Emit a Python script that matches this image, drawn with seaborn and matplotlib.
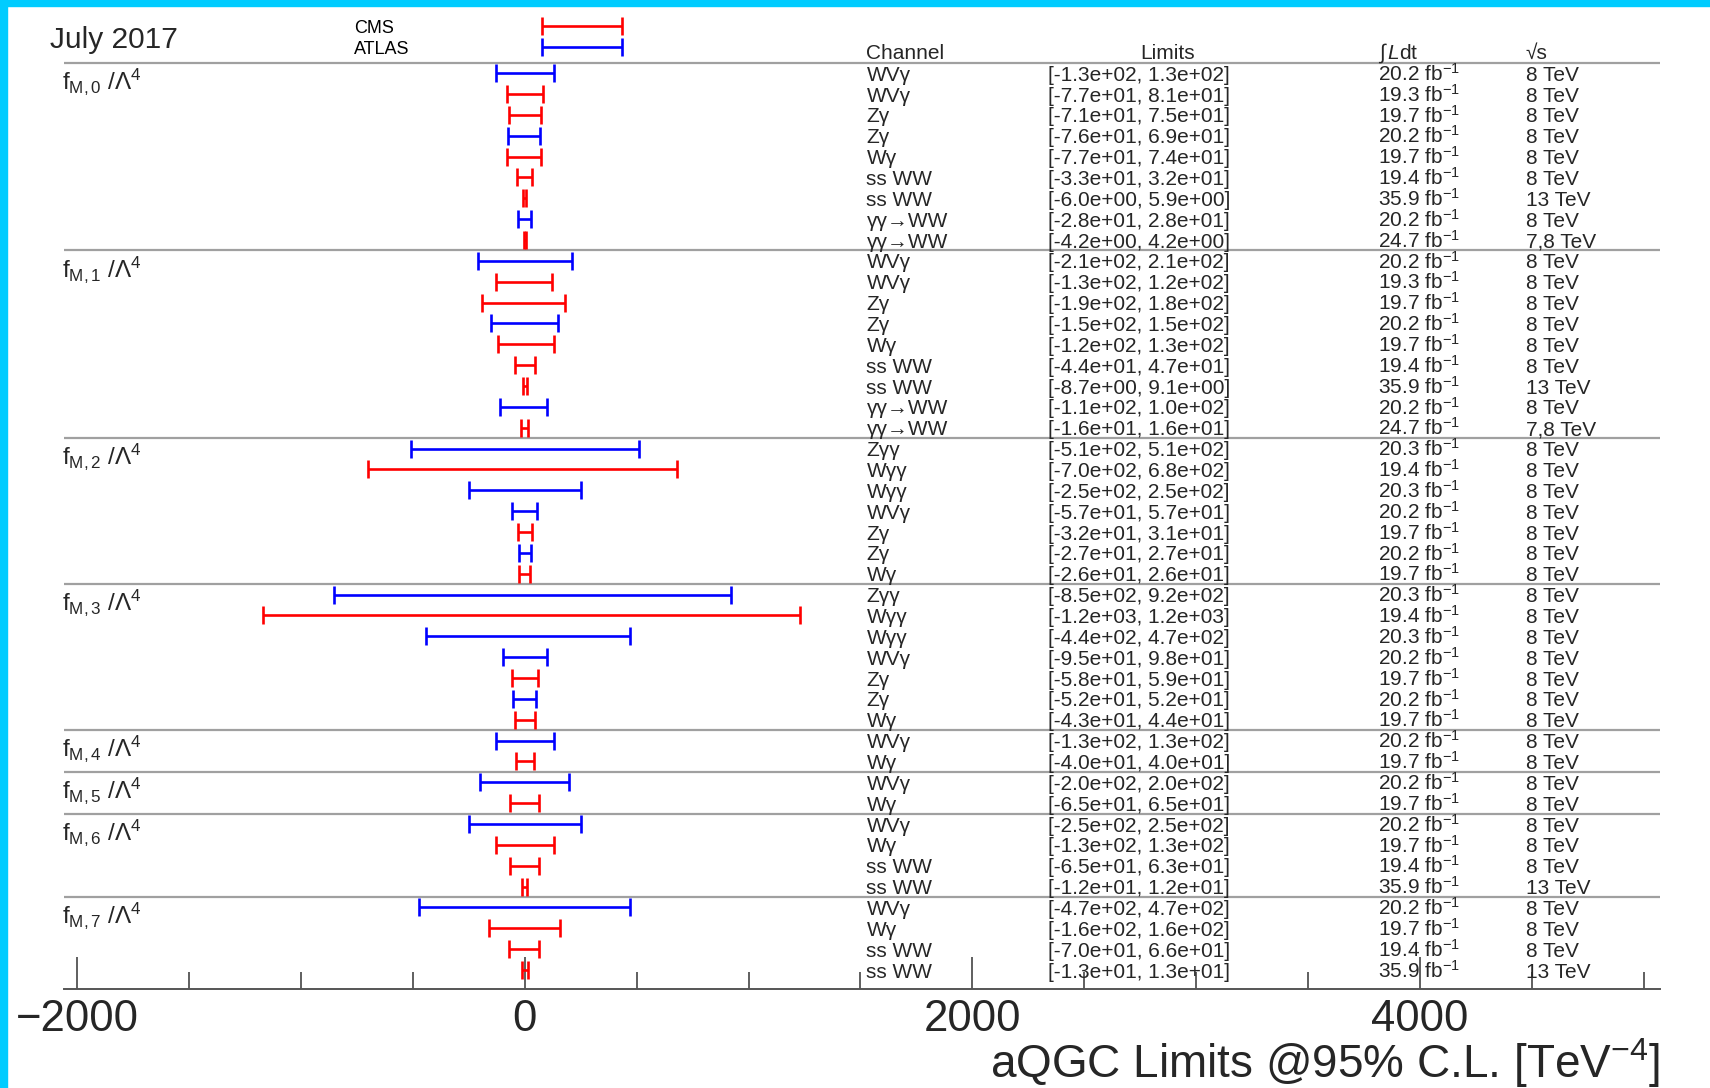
import numpy as np
import pandas as pd
import matplotlib
matplotlib.use("Agg")
import matplotlib.pyplot as plt
import seaborn as sns
from matplotlib.patches import Rectangle
from matplotlib.ticker import MultipleLocator, FixedLocator

# ---------------- data ----------------
operators = ["M,0", "M,1", "M,2", "M,3", "M,4", "M,5", "M,6", "M,7"]
n_per_op = [9, 9, 7, 7, 2, 2, 4, 4]

channels = [
    "WVγ", "WVγ", "Zγ", "Zγ", "Wγ", "ss WW", "ss WW", "γγ→WW", "γγ→WW",
    "WVγ", "WVγ", "Zγ", "Zγ", "Wγ", "ss WW", "ss WW", "γγ→WW", "γγ→WW",
    "Zγγ", "Wγγ", "Wγγ", "WVγ", "Zγ", "Zγ", "Wγ",
    "Zγγ", "Wγγ", "Wγγ", "WVγ", "Zγ", "Zγ", "Wγ",
    "WVγ", "Wγ",
    "WVγ", "Wγ",
    "WVγ", "Wγ", "ss WW", "ss WW",
    "WVγ", "Wγ", "ss WW", "ss WW",
]
lower = [
    -1.3e2, -7.7e1, -7.1e1, -7.6e1, -7.7e1, -3.3e1, -6.0e0, -2.8e1, -4.2e0,
    -2.1e2, -1.3e2, -1.9e2, -1.5e2, -1.2e2, -4.4e1, -8.7e0, -1.1e2, -1.6e1,
    -5.1e2, -7.0e2, -2.5e2, -5.7e1, -3.2e1, -2.7e1, -2.6e1,
    -8.5e2, -1.17e3, -4.4e2, -9.5e1, -5.8e1, -5.2e1, -4.3e1,
    -1.3e2, -4.0e1,
    -2.0e2, -6.5e1,
    -2.5e2, -1.3e2, -6.5e1, -1.2e1,
    -4.7e2, -1.6e2, -7.0e1, -1.3e1,
]
upper = [
    1.3e2, 8.1e1, 7.5e1, 6.9e1, 7.4e1, 3.2e1, 5.9e0, 2.8e1, 4.2e0,
    2.1e2, 1.2e2, 1.8e2, 1.5e2, 1.3e2, 4.7e1, 9.1e0, 1.0e2, 1.6e1,
    5.1e2, 6.8e2, 2.5e2, 5.7e1, 3.1e1, 2.7e1, 2.6e1,
    9.2e2, 1.23e3, 4.7e2, 9.8e1, 5.9e1, 5.2e1, 4.4e1,
    1.3e2, 4.0e1,
    2.0e2, 6.5e1,
    2.5e2, 1.3e2, 6.3e1, 1.2e1,
    4.7e2, 1.6e2, 6.6e1, 1.3e1,
]
lumi = [
    20.2, 19.3, 19.7, 20.2, 19.7, 19.4, 35.9, 20.2, 24.7,
    20.2, 19.3, 19.7, 20.2, 19.7, 19.4, 35.9, 20.2, 24.7,
    20.3, 19.4, 20.3, 20.2, 19.7, 20.2, 19.7,
    20.3, 19.4, 20.3, 20.2, 19.7, 20.2, 19.7,
    20.2, 19.7,
    20.2, 19.7,
    20.2, 19.7, 19.4, 35.9,
    20.2, 19.7, 19.4, 35.9,
]
energy = [
    "8 TeV", "8 TeV", "8 TeV", "8 TeV", "8 TeV", "8 TeV", "13 TeV", "8 TeV", "7,8 TeV",
    "8 TeV", "8 TeV", "8 TeV", "8 TeV", "8 TeV", "8 TeV", "13 TeV", "8 TeV", "7,8 TeV",
    "8 TeV", "8 TeV", "8 TeV", "8 TeV", "8 TeV", "8 TeV", "8 TeV",
    "8 TeV", "8 TeV", "8 TeV", "8 TeV", "8 TeV", "8 TeV", "8 TeV",
    "8 TeV", "8 TeV",
    "8 TeV", "8 TeV",
    "8 TeV", "8 TeV", "8 TeV", "13 TeV",
    "8 TeV", "8 TeV", "8 TeV", "13 TeV",
]
experiment = [
    "ATLAS", "CMS", "CMS", "ATLAS", "CMS", "CMS", "CMS", "ATLAS", "CMS",
    "ATLAS", "CMS", "CMS", "ATLAS", "CMS", "CMS", "CMS", "ATLAS", "CMS",
    "ATLAS", "CMS", "ATLAS", "ATLAS", "CMS", "ATLAS", "CMS",
    "ATLAS", "CMS", "ATLAS", "ATLAS", "CMS", "ATLAS", "CMS",
    "ATLAS", "CMS",
    "ATLAS", "CMS",
    "ATLAS", "CMS", "CMS", "CMS",
    "ATLAS", "CMS", "CMS", "CMS",
]
legend_names = ["CMS", "ATLAS"]
legend_interval = [78, 434]
colors = {"CMS": "#ff0000", "ATLAS": "#0000ff"}
tick_values = [-2000, 0, 2000, 4000]
xlabel = r"aQGC Limits @95% C.L. [TeV$^{-4}$]"
date_label = "July 2017"

df = pd.DataFrame({"channel": channels, "lo": lower, "hi": upper,
                   "lumi": lumi, "energy": energy, "exp": experiment})
df["row"] = np.arange(len(df))
df["mid"] = (df["lo"] + df["hi"]) / 2

# ---------------- style ----------------
sns.set_theme(style="white")
plt.rcParams["font.family"] = ["Liberation Sans", "DejaVu Sans"]
plt.rcParams["mathtext.fontset"] = "custom"
plt.rcParams["mathtext.rm"] = "Liberation Sans"
plt.rcParams["mathtext.it"] = "Liberation Sans:italic"
plt.rcParams["mathtext.bf"] = "Liberation Sans:bold"
plt.rcParams["mathtext.sf"] = "Liberation Sans"

W, H = 1710, 1088
fig = plt.figure(figsize=(W / 100, H / 100), dpi=100)
ax_left, ax_right = 64 / W, 1660 / W
ax_bottom, ax_top = 1 - 989 / H, 1 - 6 / H
ax = fig.add_axes([ax_left, ax_bottom, ax_right - ax_left, ax_top - ax_bottom])

XMIN, XMAX = -2058, 5072
ax.set_xlim(XMIN, XMAX)
ax.set_ylim(43.91, -3.22)

lw = 1.9
cap = 6.3
for name, sub in df.groupby("exp"):
    ax.errorbar(sub["mid"], sub["row"],
                xerr=[sub["mid"] - sub["lo"], sub["hi"] - sub["mid"]],
                fmt="none", ecolor=colors[name], elinewidth=lw,
                capsize=cap, capthick=lw, zorder=3)

# legend
leg_rows = [-2.25, -1.25]
for name, yy in zip(legend_names, leg_rows):
    mid = (legend_interval[0] + legend_interval[1]) / 2
    half = (legend_interval[1] - legend_interval[0]) / 2
    ax.errorbar([mid], [yy], xerr=[[half], [half]], fmt="none",
                ecolor=colors[name], elinewidth=lw, capsize=cap,
                capthick=lw, zorder=3)
    ax.text(-761, yy + 0.31, name, fontsize=13, va="baseline", ha="left",
            color="black")

# separators
starts = np.concatenate([[0], np.cumsum(n_per_op)[:-1]])
for s in starts:
    ax.plot([XMIN, XMAX], [s - 0.5, s - 0.5], color="#a0a0a0", lw=1.6,
            zorder=2, solid_capstyle="butt", clip_on=False)

# operator labels
for op, s in zip(operators, starts):
    ax.text(-2065, s + 0.76,
            r"$\mathregular{f_{%s}\ /\Lambda^{4}}$" % op,
            fontsize=17.5, ha="left", va="baseline", clip_on=False)

# table columns
X_CH, X_LIM, X_LUMI, X_E = 1527, 2337, 3810, 4473
fs = 15
base = 0.36
hdr = -1.05
ax.text(X_CH, hdr + base, "Channel", fontsize=fs, va="baseline")
ax.text(2873, hdr + base, "Limits", fontsize=fs, va="baseline", ha="center")
ax.text(X_LUMI, hdr + base, r"$\int\,\mathit{L}\mathrm{dt}$", fontsize=fs,
        va="baseline")
ax.text(X_E, hdr + base, "√s", fontsize=fs, va="baseline")

for _, r in df.iterrows():
    y = r["row"] + base
    ax.text(X_CH, y, r["channel"], fontsize=fs, va="baseline")
    ax.text(X_LIM, y, "[%.1e, %.1e]" % (r["lo"], r["hi"]), fontsize=fs,
            va="baseline")
    ax.text(X_LUMI, y, r"%.1f fb$^{\mathrm{-1}}$" % r["lumi"], fontsize=fs,
            va="baseline")
    ax.text(X_E, y, r["energy"], fontsize=fs, va="baseline")

# axes styling
for sp in ["top", "left", "right"]:
    ax.spines[sp].set_visible(False)
ax.spines["bottom"].set_color("#555555")
ax.spines["bottom"].set_linewidth(1.4)
ax.set_yticks([])
ax.xaxis.set_major_locator(FixedLocator(tick_values))
ax.xaxis.set_minor_locator(MultipleLocator(500))
ax.tick_params(axis="x", which="both", bottom=True, direction="in",
               color="#444444", width=1.2)
ax.tick_params(axis="x", which="major", length=23, labelsize=31.5, pad=7)
ax.tick_params(axis="x", which="minor", length=12)
ax.set_xlabel(xlabel, fontsize=33, loc="right")
ax.xaxis.label.set_verticalalignment("baseline")
ax.xaxis.set_label_coords(1.0, -0.0903)

fig.text(46 * 1.0906 / W, 1 - 48 / H, date_label, fontsize=21.5,
         va="baseline", ha="left")

# cyan frame (top and left)
fig.add_artist(Rectangle((0, 1 - 6 / H), 1, 6 / H, transform=fig.transFigure,
                         color="#00ccff", zorder=20))
fig.add_artist(Rectangle((0, 0), 7 / W, 1, transform=fig.transFigure,
                         color="#00ccff", zorder=20))

fig.savefig("out.png", dpi=100)
